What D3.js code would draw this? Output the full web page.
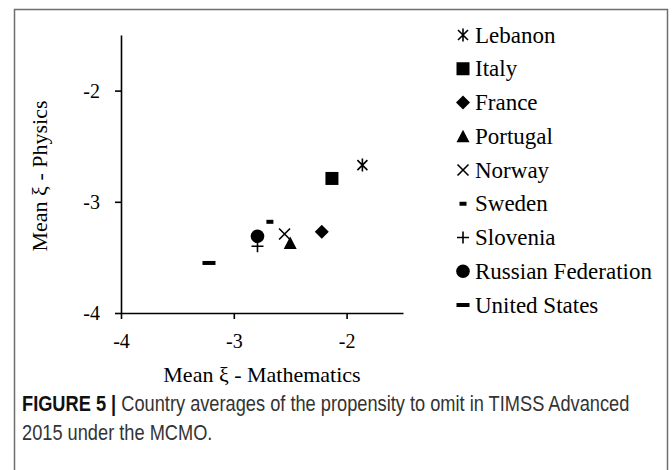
<!DOCTYPE html>
<html>
<head>
<meta charset="utf-8">
<script src="https://cdn.jsdelivr.net/npm/d3@7"></script>
<style>
  html, body { margin: 0; padding: 0; background: #fff; }
  svg { display: block; }
</style>
</head>
<body>
<svg id="chart" width="672" height="470"></svg>
<script>
// Country averages of the propensity to omit (TIMSS Advanced 2015, MCMO)
const countries = ["Lebanon", "Italy", "France", "Portugal", "Norway",
                   "Sweden", "Slovenia", "Russian Federation", "United States"];
const mathMeans    = [-1.86, -2.13, -2.22, -2.50, -2.55, -2.68, -2.79, -2.79, -3.22];
const physicsMeans = [-2.67, -2.79, -3.27, -3.37, -3.29, -3.18, -3.40, -3.31, -3.55];
const axisDomain = [-4, -1.5];
const tickValues = [-4, -3, -2];
const xTitle = "Mean \u03BE - Mathematics";
const yTitle = "Mean \u03BE - Physics";
const captionBold = "FIGURE 5 |";
const captionLines = [" Country averages of the propensity to omit in TIMSS Advanced",
                      "2015 under the MCMO."];

// marker glyph for each country
const markerOf = {
  "Lebanon": "asterisk", "Italy": "square", "France": "diamond",
  "Portugal": "triangle", "Norway": "x", "Sweden": "shortDash",
  "Slovenia": "plus", "Russian Federation": "circle", "United States": "longDash"
};

const svg = d3.select("#chart");
const serif = "Liberation Serif";

// outer frame
svg.append("path")
  .attr("d", "M14.5,480 V9.5 H667.5 V480")
  .attr("fill", "none").attr("stroke", "#6e6e6e").attr("stroke-width", 1.5);

const x = d3.scaleLinear().domain(axisDomain).range([121, 403]);
const y = d3.scaleLinear().domain(axisDomain).range([313, 35]);

function drawMarker(g, shape) {
  const sw = 1.6;
  switch (shape) {
    case "asterisk":
      g.append("path").attr("d", "M0,-6.5V6.5M-5,-5L5,5M-5,5L5,-5")
        .attr("stroke", "#000").attr("stroke-width", sw).attr("fill", "none");
      break;
    case "square":
      g.append("rect").attr("x", -6.5).attr("y", -6.5).attr("width", 13).attr("height", 13).attr("fill", "#000");
      break;
    case "diamond":
      g.append("path").attr("d", "M0,-7L7,0L0,7L-7,0Z").attr("fill", "#000");
      break;
    case "triangle":
      g.append("path").attr("d", "M0,-6.5L6.5,6L-6.5,6Z").attr("fill", "#000");
      break;
    case "x":
      g.append("path").attr("d", "M-5.5,-5.5L5.5,5.5M-5.5,5.5L5.5,-5.5")
        .attr("stroke", "#000").attr("stroke-width", sw).attr("fill", "none");
      break;
    case "shortDash":
      g.append("rect").attr("x", -3.5).attr("y", -2).attr("width", 7).attr("height", 4).attr("fill", "#000");
      break;
    case "plus":
      g.append("path").attr("d", "M0,-6V6M-6,0H6")
        .attr("stroke", "#000").attr("stroke-width", sw).attr("fill", "none");
      break;
    case "circle":
      g.append("circle").attr("r", 6.8).attr("fill", "#000");
      break;
    case "longDash":
      g.append("rect").attr("x", -6.5).attr("y", -2).attr("width", 13).attr("height", 4).attr("fill", "#000");
      break;
  }
}

// axes
const fmt = d => String(d);
const yAxis = svg.append("g").attr("transform", `translate(${x(axisDomain[0])},0)`)
  .call(d3.axisLeft(y).tickValues(tickValues).tickSize(6).tickSizeOuter(0).tickPadding(15).tickFormat(fmt));
const xAxis = svg.append("g").attr("transform", `translate(0,${y(axisDomain[0])})`)
  .call(d3.axisBottom(x).tickValues(tickValues).tickSize(6).tickSizeOuter(0).tickPadding(15).tickFormat(fmt));
[xAxis, yAxis].forEach(a => {
  a.attr("font-family", serif).attr("font-size", 20);
  a.select(".domain").attr("stroke", "#000").attr("stroke-width", 1.6);
  a.selectAll(".tick line").attr("stroke", "#000").attr("stroke-width", 1.6);
  a.selectAll(".tick text").attr("fill", "#000");
});

// axis titles
svg.append("text").attr("x", 262).attr("y", 382).attr("text-anchor", "middle")
  .attr("font-family", serif).attr("font-size", 22).attr("fill", "#000").text(xTitle);
svg.append("text").attr("transform", "translate(47,176) rotate(-90)").attr("text-anchor", "middle")
  .attr("font-family", serif).attr("font-size", 22).attr("fill", "#000").text(yTitle);

// points
countries.forEach((c, i) => {
  const g = svg.append("g").attr("transform", `translate(${x(mathMeans[i])},${y(physicsMeans[i])})`);
  drawMarker(g, markerOf[c]);
});

// legend
const legendY = d3.scaleLinear().domain([0, countries.length - 1]).range([35, 305]);
countries.forEach((c, i) => {
  const g = svg.append("g").attr("transform", `translate(463,${legendY(i)})`);
  drawMarker(g, markerOf[c]);
  svg.append("text").attr("x", 475).attr("y", legendY(i) + 7.5)
    .attr("font-family", serif).attr("font-size", 23).attr("fill", "#000").text(c);
});

// caption, set in a condensed sans
const sans = "Liberation Sans";
const cap = svg.append("g");
const line1 = cap.append("text").attr("x", 0).attr("y", 0)
  .attr("font-family", sans).attr("font-size", 22).attr("fill", "#333");
line1.append("tspan").attr("font-weight", "bold").attr("fill", "#111").text(captionBold);
line1.append("tspan").text(captionLines[0]);
cap.append("text").attr("x", 0).attr("y", 29)
  .attr("font-family", sans).attr("font-size", 22).attr("fill", "#333").text(captionLines[1]);
const natural = line1.node().getComputedTextLength();
const squeeze = 608 / natural;
cap.attr("transform", `translate(22,411) scale(${squeeze},1)`);
</script>
</body>
</html>
